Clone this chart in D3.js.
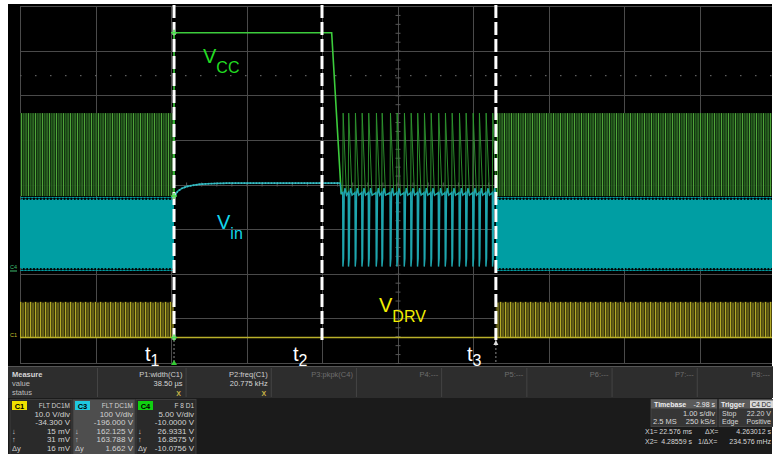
<!DOCTYPE html>
<html><head><meta charset="utf-8">
<script src="https://cdn.jsdelivr.net/npm/d3@7"></script>
<style>
html,body{margin:0;padding:0;background:#fff;}
svg{display:block;font-family:"Liberation Sans",Arial,sans-serif;}
</style></head><body>
<svg id="c" width="773" height="454"></svg>
<script>
// ---- acquisition settings ----
const timeDomain = [0, 10];            // 10 divisions at 1.00 s/div
const divDomain = [-4, 4];             // 8 vertical divisions
const chIds = ["C1", "C3", "C4"];
const chVdiv = [10, 100, 5];           // V/div
const chOffset = [-34.3, -196, -10];   // offset, V
const trigLevel = 22.2;                // C4 trigger level, V

// ---- cursor / event times (s) ----
const eventT = [2.04, 4.0, 6.303];
const eventNames = ["1", "2", "3"];

// ---- normal switching bursts (envelope min/max, V) ----
const burstSpans = [[0, 2.04], [6.303, 10]];
const vccBurst = [8.7, 18.0];
const vinBurst = [8.9, 161.3];
const drvBurst = [0, 8.0];

// ---- VCC (C4) after t1 ----
const vccT = [2.04, 2.04, 4.128, 4.255];
const vccV = [8.7, 27.0, 27.0, 8.9];

// ---- Vin (C3) after t1 ----
const vinT = [2.04, 2.053, 2.09, 2.14, 2.2, 2.28, 2.38, 2.52, 2.75, 3.2, 3.7, 4.1, 4.24, 4.255];
const vinV = [162, 172, 181, 187, 191, 194, 196.5, 198, 199, 199, 199, 199, 199, 176];

// ---- hiccup pulses between t2 and t3 (s) ----
const hiccupT = [4.274, 4.348, 4.437, 4.526, 4.613, 4.715, 4.791, 4.901, 4.989, 5.086, 5.175,
                 5.262, 5.351, 5.440, 5.540, 5.629, 5.718, 5.815, 5.903, 5.996, 6.079, 6.168, 6.256];
// pulse outline relative to each pulse time
const vccPulseDt = [0, 0.006, 0.05];
const vccPulseV = [8.9, 18.0, 8.9];
const vinPulseDt = [0, 0.003, 0.012, 0.02, 0.03, 0.05];
const vinPulseV = [178, 12, 30, 175, 188, 172];

// ---- VDRV (C1) after t1 ----
const drvT = [2.04, 6.303];
const drvV = [0, 0];

// ---- readout panel text ----
const measHeads = ["P1:width(C1)", "P2:freq(C1)", "P3:pkpk(C4)", "P4:---", "P5:---", "P6:---", "P7:---", "P8:---"];
const measValues = ["38.50 µs", "20.775 kHz", "", "", "", "", "", ""];
const measStatus = ["X", "X", "", "", "", "", "", ""];
const chCoupling = ["FLT  DC1M", "FLT  DC1M", "F  8  D1"];
const chScaleTxt = ["10.0 V/div", "100 V/div", "5.00 V/div"];
const chOffsetTxt = ["-34.300 V", "-196.000 V", "-10.0000 V"];
const chCur1 = ["15 mV", "162.125 V", "26.9331 V"];
const chCur2 = ["31 mV", "163.788 V", "16.8575 V"];
const chDelta = ["16 mV", "1.662 V", "-10.0756 V"];
const tbDelay = "-2.98 s", tbScale = "1.00 s/div", tbPoints = "2.5 MS", tbRate = "250 kS/s";
const trigMode = "Stop", trigType = "Edge", trigLevelTxt = "22.20 V", trigSlope = "Positive", trigSrc = "C4 DC";
const cursX1 = "22.576 ms", cursX2 = "4.28559 s", cursDX = "4.263012 s", cursInvDX = "234.576 mHz";

// ---- drawing ----
const svg = d3.select("#c");
const SX0 = 8, SX1 = 772, SY0 = 4, SY1 = 366;
const x = d3.scaleLinear().domain(timeDomain).range([20, 775]);
const yDiv = d3.scaleLinear().domain(divDomain).range([363, 6]);
const yCh = chIds.map((id, i) => d3.scaleLinear()
  .domain([divDomain[0] * chVdiv[i] - chOffset[i], divDomain[1] * chVdiv[i] - chOffset[i]])
  .range([363, 6]));
const [y1, y3, y4] = yCh;

const defs = svg.append("defs");
defs.append("clipPath").attr("id", "scr").append("rect")
  .attr("x", SX0).attr("y", SY0).attr("width", SX1 - SX0).attr("height", SY1 - SY0);

// textures for the dense switching bursts
const pg = defs.append("pattern").attr("id", "pGreen").attr("patternUnits", "userSpaceOnUse")
  .attr("width", 7).attr("height", 200);
pg.append("rect").attr("width", 7).attr("height", 200).attr("fill", "#143510").attr("opacity", 0.92);
[[0.5, "#4fa43a", 0], [2.8, "#2e7424", 6], [5.1, "#3f8f30", 2]].forEach(([px, c, dy]) =>
  pg.append("line").attr("x1", px).attr("x2", px).attr("y1", dy).attr("y2", 200)
    .attr("stroke", c).attr("stroke-width", 1));

const py = defs.append("pattern").attr("id", "pYellow").attr("patternUnits", "userSpaceOnUse")
  .attr("width", 5).attr("height", 100);
py.append("rect").attr("width", 5).attr("height", 100).attr("fill", "#34320b");
[[0.6, "#b3aa27", 0], [3.0, "#86801f", 3]].forEach(([px, c, dy]) =>
  py.append("line").attr("x1", px).attr("x2", px).attr("y1", dy).attr("y2", 100)
    .attr("stroke", c).attr("stroke-width", 1.2));

const pt = defs.append("pattern").attr("id", "pTeethUp").attr("patternUnits", "userSpaceOnUse")
  .attr("width", 3.4).attr("height", 3);
pt.append("path").attr("d", "M0,3 L1.7,0 L3.4,3 Z").attr("fill", "#009ea3");
const pb = defs.append("pattern").attr("id", "pTeethDn").attr("patternUnits", "userSpaceOnUse")
  .attr("width", 3.4).attr("height", 3);
pb.append("path").attr("d", "M0,0 L1.7,3 L3.4,0 Z").attr("fill", "#009ea3");

// screen background
svg.append("rect").attr("x", SX0).attr("y", SY0).attr("width", SX1 - SX0).attr("height", SY1 - SY0).attr("fill", "#000");

const scr = svg.append("g").attr("clip-path", "url(#scr)");

// graticule
const grid = scr.append("g").attr("stroke", "#4a4a4a").attr("stroke-width", 1);
d3.range(0, 11).forEach(d => grid.append("line")
  .attr("x1", Math.round(x(d)) + 0.5).attr("x2", Math.round(x(d)) + 0.5)
  .attr("y1", yDiv(4)).attr("y2", yDiv(-4)));
d3.range(-4, 5).forEach(d => grid.append("line")
  .attr("x1", x(0)).attr("x2", x(10))
  .attr("y1", Math.round(yDiv(d)) + 0.5).attr("y2", Math.round(yDiv(d)) + 0.5));
// minor ticks on centre axes
d3.range(0, 50).forEach(i => grid.append("line")
  .attr("x1", x(i / 5) + 0.5).attr("x2", x(i / 5) + 0.5)
  .attr("y1", yDiv(0) - 2).attr("y2", yDiv(0) + 2).attr("stroke", "#585858"));
d3.range(0, 40).forEach(i => grid.append("line")
  .attr("x1", x(5) - 2).attr("x2", x(5) + 3)
  .attr("y1", yDiv(-4 + i / 5) + 0.5).attr("y2", yDiv(-4 + i / 5) + 0.5).attr("stroke", "#585858"));

// trigger level marker (dotted)
scr.append("line").attr("x1", x(0)).attr("x2", x(10))
  .attr("y1", y4(trigLevel)).attr("y2", y4(trigLevel))
  .attr("stroke", "#5e5e5e").attr("stroke-width", 1.4).attr("stroke-dasharray", "1.5,13.5");

// dense bursts
burstSpans.forEach(([a, b]) => {
  // VCC
  scr.append("rect").attr("x", x(a)).attr("width", x(b) - x(a))
    .attr("y", y4(vccBurst[1])).attr("height", y4(vccBurst[0]) - y4(vccBurst[1]))
    .attr("fill", "url(#pGreen)");
  // Vin
  scr.append("rect").attr("x", x(a)).attr("width", x(b) - x(a))
    .attr("y", y3(vinBurst[1])).attr("height", y3(vinBurst[0]) - y3(vinBurst[1]))
    .attr("fill", "#009ea3");
  scr.append("rect").attr("x", x(a)).attr("width", x(b) - x(a))
    .attr("y", y3(vinBurst[1]) - 3).attr("height", 3).attr("fill", "url(#pTeethUp)");
  scr.append("rect").attr("x", x(a)).attr("width", x(b) - x(a))
    .attr("y", y3(vinBurst[0])).attr("height", 3).attr("fill", "url(#pTeethDn)");
  // VDRV
  scr.append("rect").attr("x", x(a)).attr("width", x(b) - x(a))
    .attr("y", y1(drvBurst[1])).attr("height", y1(drvBurst[0]) - y1(drvBurst[1]))
    .attr("fill", "url(#pYellow)");
  scr.append("line").attr("x1", x(a)).attr("x2", x(b))
    .attr("y1", y1(drvBurst[0])).attr("y2", y1(drvBurst[0]))
    .attr("stroke", "#b9b02a").attr("stroke-width", 1.6);
});

const line = d3.line().x(d => x(d[0]));

// VCC trace
const vccPts = vccT.map((t, i) => [t, vccV[i]]);
hiccupT.forEach(tk => vccPulseDt.forEach((dt, j) => vccPts.push([tk + dt, vccPulseV[j]])));
vccPts.push([eventT[2], vccPulseV[0]]);
scr.append("path").attr("d", line.y(d => y4(d[1]))(vccT.map((t, i) => [t, vccV[i]])))
  .attr("fill", "none").attr("stroke", "#3ccc3c").attr("stroke-width", 1.6);
scr.append("path").attr("d", line.y(d => y4(d[1]))(vccPts.slice(vccT.length - 1)))
  .attr("fill", "none").attr("stroke", "#2f9a30").attr("stroke-width", 0.9);

// Vin trace
const vinPts = vinT.map((t, i) => [t, vinV[i]]);
hiccupT.forEach(tk => vinPulseDt.forEach((dt, j) => vinPts.push([tk + dt, vinPulseV[j]])));
vinPts.push([eventT[2], 165]);
scr.append("path").attr("d", line.y(d => y3(d[1]))(vinPts))
  .attr("fill", "none").attr("stroke", "#1ea6ae").attr("stroke-width", 1.4);
scr.append("path").attr("d", line.y(d => y3(d[1]))(vinT.map((t, i) => [t, vinV[i]]).slice(1, -1)))
  .attr("fill", "none").attr("stroke", "#3bbfc6").attr("stroke-width", 1.8)
  .attr("stroke-dasharray", "2,1");

// VDRV trace
scr.append("path").attr("d", line.y(d => y1(d[1]))(drvT.map((t, i) => [t, drvV[i]])))
  .attr("fill", "none").attr("stroke", "#b9b02a").attr("stroke-width", 1.6);

// channel ground markers at left edge
svg.append("text").attr("x", 10).attr("y", y3(vinBurst[0]) + 1).text("C4")
  .attr("font-size", 5.5).attr("fill", "#3fbf6f");
svg.append("line").attr("x1", 10).attr("x2", 17).attr("y1", y3(vinBurst[0]) + 3).attr("y2", y3(vinBurst[0]) + 3)
  .attr("stroke", "#3fbf6f").attr("stroke-width", 1);
svg.append("text").attr("x", 10).attr("y", y1(0) - 1).text("C1")
  .attr("font-size", 5.5).attr("fill", "#c9c02e");

// cursor lines
eventT.forEach((t, i) => {
  scr.append("line").attr("x1", x(t)).attr("x2", x(t)).attr("y1", 5).attr("y2", 340)
    .attr("stroke", "#fff").attr("stroke-width", 3).attr("stroke-dasharray", "13,4");
});
[0, 2].forEach(i => {
  scr.append("line").attr("x1", x(eventT[i])).attr("x2", x(eventT[i])).attr("y1", 340).attr("y2", 364)
    .attr("stroke", "#8a8a8a").attr("stroke-width", 1).attr("stroke-dasharray", "2,2");
});
// cursor markers on traces
[[eventT[0], y4(27.0)], [eventT[0], y4(vccBurst[0])], [eventT[0], y1(0)]].forEach(([t, yy]) =>
  scr.append("path").attr("d", `M${x(t) - 3},${yy}h6M${x(t)},${yy - 3}v6`)
    .attr("stroke", "#49e049").attr("stroke-width", 1.5));
scr.append("path").attr("d", `M${x(eventT[0]) - 3},365 L${x(eventT[0])},360 L${x(eventT[0]) + 3},365Z`).attr("fill", "#33cc33");
scr.append("path").attr("d", `M${x(eventT[2]) - 2.5},345 L${x(eventT[2])},340 L${x(eventT[2]) + 2.5},345Z`).attr("fill", "#ddd");

// trace labels
function lab(xp, yp, main, sub, col) {
  const t = svg.append("text").attr("x", xp).attr("y", yp).attr("fill", col).attr("font-size", 20);
  t.append("tspan").text(main);
  t.append("tspan").attr("font-size", 16).attr("dy", 10).text(sub);
}
lab(203, 63, "V", "CC", "#22dd22");
lab(217, 229, "V", "in", "#13d6ec");
lab(379, 312, "V", "DRV", "#f2ee00");
eventT.forEach((t, i) => {
  const t0 = svg.append("text").attr("x", x(t) - 29).attr("y", 361).attr("fill", "#fff").attr("font-size", 20);
  t0.append("tspan").text("t");
  t0.append("tspan").attr("font-size", 16).attr("dy", 5).text(eventNames[i]);
});

// ---- readout panel ----
const P = svg.append("g").attr("font-size", 7.5);
P.append("rect").attr("x", SX0).attr("y", 366).attr("width", SX1 - SX0).attr("height", 88).attr("fill", "#1b1b1b");
P.append("rect").attr("x", SX0).attr("y", 367).attr("width", SX1 - SX0 + 2).attr("height", 31).attr("fill", "#2d2d2d");
P.append("line").attr("x1", SX0).attr("x2", 775).attr("y1", 366.5).attr("y2", 366.5).attr("stroke", "#555");
P.append("text").attr("x", 12).attr("y", 376.5).text("Measure").attr("fill", "#d6d6d6").attr("font-weight", "bold");
P.append("text").attr("x", 12).attr("y", 386).text("value").attr("fill", "#bdbdbd");
P.append("text").attr("x", 12).attr("y", 395).text("status").attr("fill", "#bdbdbd");
const measRight = d3.range(measHeads.length).map(i => Math.min(x(2.1) + 4 + i * 85.2, 770));
const measDiv = [97].concat(measRight.slice(0, -1).map(r => r + 3));
measDiv.forEach(d => P.append("line").attr("x1", d + 0.5).attr("x2", d + 0.5).attr("y1", 368).attr("y2", 397)
  .attr("stroke", "#444"));
measHeads.forEach((h, i) => {
  P.append("text").attr("x", measRight[i]).attr("y", 376.5).attr("text-anchor", "end").text(h)
    .attr("fill", i < 2 ? "#cfcfcf" : "#6e6e6e");
  if (measValues[i]) P.append("text").attr("x", measRight[i]).attr("y", 386).attr("text-anchor", "end")
    .text(measValues[i]).attr("fill", "#d6d6d6");
  if (measStatus[i]) P.append("text").attr("x", measRight[i] - 4).attr("y", 395.5).attr("text-anchor", "middle")
    .text(measStatus[i]).attr("fill", "#c8b446").attr("font-weight", "bold").attr("font-size", 7);
});

// channel descriptor boxes
const boxX = [10, 73, 136], boxW = [62, 62, 60];
const badgeCol = ["#f0e000", "#1fc8e0", "#10d010"];
chIds.forEach((id, i) => {
  const bx = boxX[i], r = bx + boxW[i] - 2;
  P.append("rect").attr("x", bx).attr("y", 399.5).attr("width", boxW[i]).attr("height", 55)
    .attr("fill", i === 1 ? "#4e4e4e" : "#2a2a2a").attr("stroke", "#3c3c3c");
  P.append("rect").attr("x", bx + 2).attr("y", 401).attr("width", 15).attr("height", 9).attr("fill", badgeCol[i]);
  P.append("text").attr("x", bx + 9.5).attr("y", 408.5).attr("text-anchor", "middle").text(id)
    .attr("fill", "#000").attr("font-weight", "bold").attr("font-size", 7.5);
  const rows = [chCoupling[i], chScaleTxt[i], chOffsetTxt[i], chCur1[i], chCur2[i], chDelta[i]];
  const ry = [407.5, 416.5, 425, 433.5, 442, 450.5];
  rows.forEach((s, k) => P.append("text").attr("x", r).attr("y", ry[k]).attr("text-anchor", "end")
    .text(s).attr("fill", "#d2d2d2").attr("font-size", k === 0 ? 6.5 : 8));
  [["↓", 433.5], ["↑", 442], ["Δy", 450.5]].forEach(([s, yy]) =>
    P.append("text").attr("x", bx + 2).attr("y", yy).text(s).attr("fill", "#cfcfcf").attr("font-size", 7.5));
});

// timebase / trigger
P.append("rect").attr("x", 651).attr("y", 399.5).attr("width", 66).attr("height", 27).attr("fill", "#363636").attr("stroke", "#444");
P.append("rect").attr("x", 651).attr("y", 399.5).attr("width", 66).attr("height", 9).attr("fill", "#5a5a5a");
P.append("text").attr("x", 654).attr("y", 407).text("Timebase").attr("fill", "#eee").attr("font-weight", "bold").attr("font-size", 7);
P.append("text").attr("x", 715).attr("y", 407).attr("text-anchor", "end").text(tbDelay).attr("fill", "#eee").attr("font-size", 7);
P.append("text").attr("x", 715).attr("y", 416).attr("text-anchor", "end").text(tbScale).attr("fill", "#d6d6d6");
P.append("text").attr("x", 653).attr("y", 424).text(tbPoints).attr("fill", "#d6d6d6");
P.append("text").attr("x", 715).attr("y", 424).attr("text-anchor", "end").text(tbRate).attr("fill", "#d6d6d6");
P.append("rect").attr("x", 719).attr("y", 399.5).attr("width", 60).attr("height", 27).attr("fill", "#363636").attr("stroke", "#444");
P.append("rect").attr("x", 719).attr("y", 399.5).attr("width", 60).attr("height", 9).attr("fill", "#5a5a5a");
P.append("text").attr("x", 721).attr("y", 407).text("Trigger").attr("fill", "#eee").attr("font-weight", "bold").attr("font-size", 7);
P.append("rect").attr("x", 750).attr("y", 400.5).attr("width", 23).attr("height", 7.5).attr("fill", "#d8d8d8");
P.append("text").attr("x", 751.5).attr("y", 406.8).text(trigSrc).attr("fill", "#222").attr("font-size", 6.5);
P.append("text").attr("x", 722).attr("y", 416).text(trigMode).attr("fill", "#d6d6d6").attr("font-size", 7);
P.append("text").attr("x", 771).attr("y", 416).attr("text-anchor", "end").text(trigLevelTxt).attr("fill", "#d6d6d6").attr("font-size", 7);
P.append("text").attr("x", 722).attr("y", 424).text(trigType).attr("fill", "#d6d6d6").attr("font-size", 7);
P.append("text").attr("x", 771).attr("y", 424).attr("text-anchor", "end").text(trigSlope).attr("fill", "#d6d6d6").attr("font-size", 7);
// cursor readouts
const C = P.append("g").attr("font-size", 7).attr("fill", "#d6d6d6");
C.append("text").attr("x", 645).attr("y", 434).text("X1=");
C.append("text").attr("x", 692).attr("y", 434).attr("text-anchor", "end").text(cursX1);
C.append("text").attr("x", 705).attr("y", 434).text("ΔX=");
C.append("text").attr("x", 771).attr("y", 434).attr("text-anchor", "end").text(cursDX);
C.append("text").attr("x", 645).attr("y", 444).text("X2=");
C.append("text").attr("x", 692).attr("y", 444).attr("text-anchor", "end").text(cursX2);
C.append("text").attr("x", 698).attr("y", 444).text("1/ΔX=");
C.append("text").attr("x", 771).attr("y", 444).attr("text-anchor", "end").text(cursInvDX);
</script>
</body></html>
